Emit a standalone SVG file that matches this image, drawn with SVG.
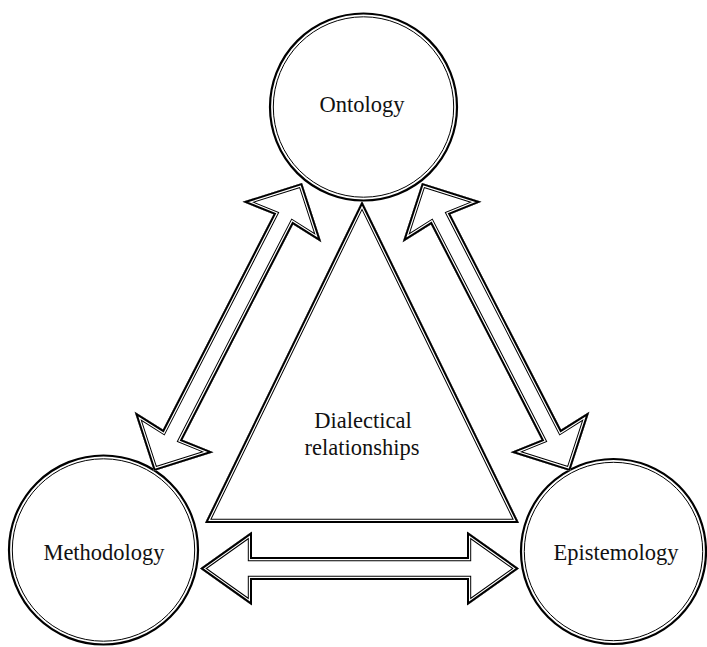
<svg xmlns="http://www.w3.org/2000/svg" xmlns:xlink="http://www.w3.org/1999/xlink" width="707" height="647" viewBox="0 0 707 647">
<style>
.bg{fill:#fff}
.o1{fill:none;stroke:#000;stroke-width:8.4}
.o2{fill:none;stroke:#fff;stroke-width:6.4}
.o3{fill:none;stroke:#000;stroke-width:4}
.co{fill:#fff;stroke:#000;stroke-width:2.2}
.ci{fill:none;stroke:#000;stroke-width:1}
.lbl{font-family:"Liberation Serif","Times New Roman",serif;font-size:22.5px;fill:#111;text-anchor:middle}
</style>
<defs>
<path id="diag" d="M -162 0 L -118 -44.3 L -121 -11 L 121 -11 L 118 -44.3 L 162 0 L 118 44.3 L 121 11 L -121 11 L -118 44.3 Z"/>
<path id="horiz" d="M -159.5 0 L -107.5 -37 L -107.5 -11.5 L 107.5 -11.5 L 107.5 -37 L 159.5 0 L 107.5 37 L 107.5 11.5 L -107.5 11.5 L -107.5 37 Z"/>
<path id="tri" d="M 362 201 L 205 523 L 519 523 Z"/>
<clipPath id="cDiag"><use xlink:href="#diag"/></clipPath>
<clipPath id="cHoriz"><use xlink:href="#horiz"/></clipPath>
<clipPath id="cTri"><use xlink:href="#tri"/></clipPath>
</defs>

<g id="ontology">
<circle class="co" cx="363.5" cy="107" r="93.5"/>
<circle class="ci" cx="363.5" cy="107" r="90.2"/>
<text class="lbl" x="362" y="112">Ontology</text>
</g>

<g id="methodology">
<circle class="co" cx="103.5" cy="550" r="94.5"/>
<circle class="ci" cx="103.5" cy="550" r="91.2"/>
<text class="lbl" x="104" y="560">Methodology</text>
</g>

<g id="epistemology">
<circle class="co" cx="613.5" cy="551.5" r="92.5"/>
<circle class="ci" cx="613.5" cy="551.5" r="89.2"/>
<text class="lbl" x="616" y="560">Epistemology</text>
</g>

<g id="dialectical">
<use xlink:href="#tri" class="bg"/>
<g clip-path="url(#cTri)">
<use xlink:href="#tri" class="o1"/>
<use xlink:href="#tri" class="o2"/>
<use xlink:href="#tri" class="o3"/>
</g>
<text class="lbl" x="363" y="428">Dialectical</text>
<text class="lbl" x="362" y="455">relationships</text>
</g>

<g id="connectors">
<g transform="translate(228 327) rotate(-62.8)">
<use xlink:href="#diag" class="bg"/>
<g clip-path="url(#cDiag)">
<use xlink:href="#diag" class="o1"/>
<use xlink:href="#diag" class="o2"/>
<use xlink:href="#diag" class="o3"/>
</g>
</g>
<g transform="translate(496 327) rotate(62.8)">
<use xlink:href="#diag" class="bg"/>
<g clip-path="url(#cDiag)">
<use xlink:href="#diag" class="o1"/>
<use xlink:href="#diag" class="o2"/>
<use xlink:href="#diag" class="o3"/>
</g>
</g>
<g transform="translate(359.5 568.5)">
<use xlink:href="#horiz" class="bg"/>
<g clip-path="url(#cHoriz)">
<use xlink:href="#horiz" class="o1"/>
<use xlink:href="#horiz" class="o2"/>
<use xlink:href="#horiz" class="o3"/>
</g>
</g>
</g>
</svg>
